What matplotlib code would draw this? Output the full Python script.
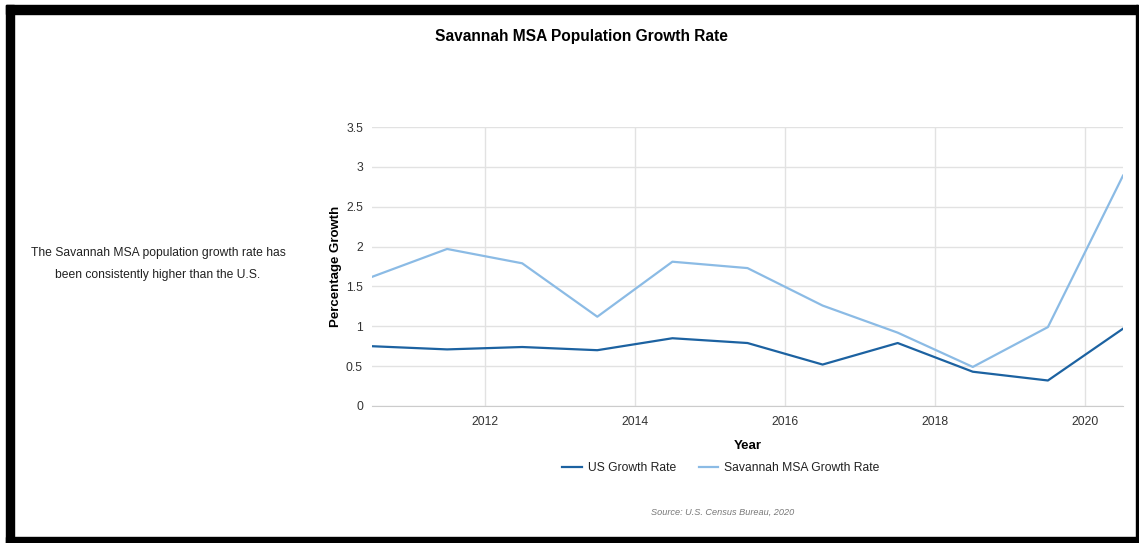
import matplotlib
matplotlib.use("Agg")
import matplotlib.pyplot as plt
from matplotlib.lines import Line2D
from matplotlib.patches import Rectangle

plt.rcParams["font.family"] = ["Liberation Sans", "DejaVu Sans"]

# %% data (census estimates, plotted at mid-year)
years = [2010, 2011, 2012, 2013, 2014, 2015, 2016, 2017, 2018, 2019, 2020]
us_rate = [0.75, 0.71, 0.74, 0.70, 0.85, 0.79, 0.52, 0.79, 0.43, 0.32, 0.97]
sav_rate = [1.62, 1.97, 1.79, 1.12, 1.81, 1.73, 1.26, 0.92, 0.49, 0.99, 2.89]
x_ticks = [2012, 2014, 2016, 2018, 2020]
y_ticks = [0, 0.5, 1, 1.5, 2, 2.5, 3, 3.5]

US_COLOR = "#1c62a1"
SAV_COLOR = "#8bbbe5"
W, H = 1139, 543

fig = plt.figure(figsize=(W / 100, H / 100), dpi=100)
ax = fig.add_axes([372 / W, 1 - 406 / H, 751 / W, 279 / H])

xs = [y + 0.5 for y in years]
ax.plot(xs, us_rate, color=US_COLOR, lw=1.6, label="US Growth Rate", zorder=3)
ax.plot(xs, sav_rate, color=SAV_COLOR, lw=1.6, label="Savannah MSA Growth Rate", zorder=3)

ax.set_xlim(xs[0], xs[-1])
ax.set_ylim(0, 3.5)
ax.set_xticks(x_ticks)
ax.set_yticks(y_ticks)
ax.set_yticklabels([f"{v:g}" for v in y_ticks])
ax.grid(True, color="#e2e2e2", lw=1)
for s in ("top", "right", "left"):
    ax.spines[s].set_visible(False)
ax.spines["bottom"].set_color("#cccccc")
ax.tick_params(length=0, labelsize=8.7, labelcolor="#333333")
ax.tick_params(axis="y", pad=6.5)
ax.tick_params(axis="x", pad=7.5)
ax.set_xlabel("Year", fontsize=9.5, fontweight="bold", labelpad=8)
ax.set_ylabel("Percentage Growth", fontsize=9.5, fontweight="heavy", labelpad=3)

handles = [Line2D([], [], color=US_COLOR, lw=1.6), Line2D([], [], color=SAV_COLOR, lw=1.6)]
fig.legend(handles, ["US Growth Rate", "Savannah MSA Growth Rate"],
           loc="center", bbox_to_anchor=(721 / W, 1 - 468 / H), ncol=2,
           frameon=False, fontsize=8.7, handlelength=1.6, columnspacing=1.9,
           handletextpad=0.5, labelcolor="#222222")

fig.text(581 / W, 1 - 37 / H, "Savannah MSA Population Growth Rate",
         ha="center", va="center", fontsize=11.2, fontweight="bold")
fig.text(158 / W, 1 - 264 / H,
         "The Savannah MSA population growth rate has\nbeen consistently higher than the U.S.",
         ha="center", va="center", fontsize=8.7, linespacing=2.1, color="#222222")
fig.text(723 / W, 1 - 512 / H, "Source: U.S. Census Bureau, 2020",
         ha="center", va="center", fontsize=6.6, style="italic", color="#777777")

# black frame around the panel
frame = [(6, 5, 1132, 9), (6, 5, 8, 538), (6, 537, 1132, 6), (1136, 5, 2, 538)]
for x0, y0, w, h in frame:
    fig.patches.append(Rectangle((x0 / W, 1 - (y0 + h) / H), w / W, h / H,
                                 transform=fig.transFigure, color="black", zorder=10))

fig.savefig("out.png", dpi=100)
